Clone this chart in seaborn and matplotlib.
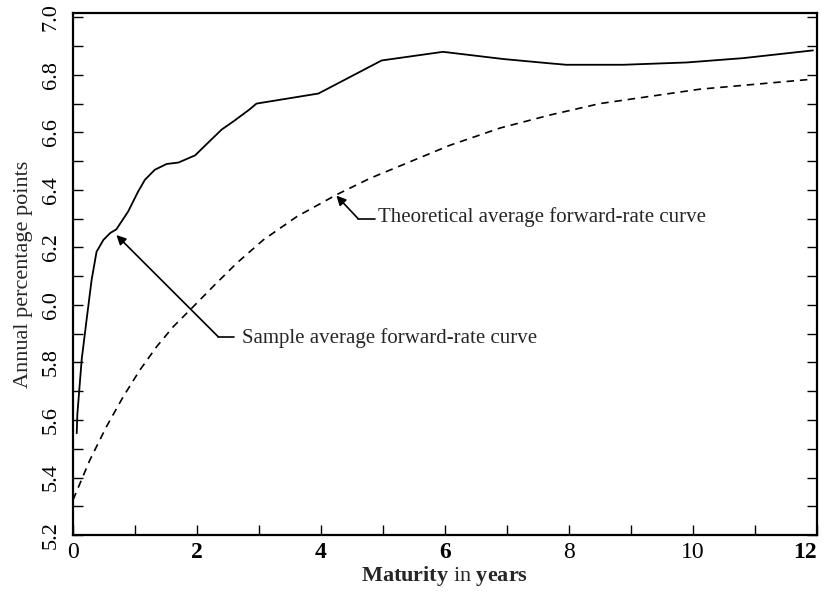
import matplotlib
matplotlib.use("Agg")
import matplotlib.pyplot as plt
import seaborn as sns
import pandas as pd
from matplotlib.ticker import MultipleLocator

# ---- data ----
sample_x = [0.06, 0.07, 0.14, 0.22, 0.30, 0.38, 0.49, 0.60, 0.70, 0.89, 1.05, 1.16,
            1.32, 1.51, 1.70, 1.97, 2.16, 2.40, 2.60, 2.85, 2.96, 3.96, 4.98, 5.97,
            6.94, 7.69, 7.96, 8.88, 9.90, 10.81, 11.94]
sample_y = [5.554, 5.62, 5.81, 5.95, 6.087, 6.185, 6.226, 6.25, 6.263, 6.325, 6.394, 6.435,
            6.47, 6.49, 6.495, 6.52, 6.56, 6.61, 6.64, 6.68, 6.70, 6.735, 6.85, 6.88,
            6.855, 6.84, 6.835, 6.835, 6.843, 6.858, 6.885]

theo_x = [0.0, 0.27, 0.54, 0.81, 1.08, 1.35, 1.62, 1.89, 2.26, 2.64, 3.07, 3.61, 4.25,
          4.79, 6.08, 6.89, 7.69, 8.5, 10.11, 11.94]
theo_y = [5.322, 5.46, 5.577, 5.681, 5.774, 5.855, 5.925, 5.983, 6.064, 6.145, 6.226,
          6.307, 6.383, 6.44, 6.555, 6.615, 6.66, 6.70, 6.75, 6.785]

x_ticks = [0, 2, 4, 6, 8, 10, 12]
x_bold = [False, True, True, True, False, False, True]
y_ticks = [5.2, 5.4, 5.6, 5.8, 6.0, 6.2, 6.4, 6.6, 6.8, 7.0]

label_theo = "Theoretical average forward-rate curve"
label_sample = "Sample average forward-rate curve"

df_s = pd.DataFrame({"maturity": sample_x, "rate": sample_y})
df_t = pd.DataFrame({"maturity": theo_x, "rate": theo_y})

sns.set_theme(style="ticks")
plt.rcParams["font.family"] = ["Liberation Serif", "DejaVu Serif"]
plt.rcParams["mathtext.fontset"] = "custom"
plt.rcParams["mathtext.rm"] = "Liberation Serif"
plt.rcParams["mathtext.bf"] = "Liberation Serif:bold"
plt.rcParams["mathtext.it"] = "Liberation Serif:italic"

fig = plt.figure(figsize=(8.25, 5.96), dpi=100)
ax = fig.add_axes([0.0885, 0.1023, 0.9015, 0.8759])

sns.lineplot(data=df_s, x="maturity", y="rate", ax=ax, color="black", lw=1.3,
             estimator=None, sort=False)
sns.lineplot(data=df_t, x="maturity", y="rate", ax=ax, color="black", lw=1.2,
             estimator=None, sort=False, dashes=False, linestyle=(0, (4.5, 3.5)))

ax.set_xlim(0, 12)
ax.set_ylim(5.2, 7.015)

ax.set_xticks(x_ticks)
ax.set_xticklabels([str(t) for t in x_ticks], fontsize=17)
xl = ax.get_xticklabels()
for lbl, b in zip(xl, x_bold):
    lbl.set_fontweight("bold" if b else "normal")
xl[-1].set_horizontalalignment("right")
ax.xaxis.set_minor_locator(MultipleLocator(1))

ax.set_yticks(y_ticks)
ax.set_yticklabels([f"{t:.1f}" for t in y_ticks], fontsize=16, rotation=90, va="center")
ax.yaxis.set_minor_locator(MultipleLocator(0.1))

ax.tick_params(axis="both", which="both", direction="in", length=7, width=1.0,
               colors="black", right=True, top=False)
ax.tick_params(axis="y", which="both", pad=9)
ax.tick_params(axis="x", which="both", pad=5)

for s in ax.spines.values():
    s.set_linewidth(1.6)
    s.set_color("black")

ax.set_xlabel(r"$\mathbf{Maturity}$ in $\mathbf{years}$", fontsize=16, labelpad=1)
ax.set_ylabel("Annual percentage points", fontsize=16, labelpad=6)

# annotations
arrow = dict(arrowstyle="-|>", lw=1.2, color="black", mutation_scale=14,
             shrinkA=0, shrinkB=0)
ax.annotate("", xy=(4.25, 6.38), xytext=(4.60, 6.30), arrowprops=arrow)
ax.plot([4.60, 4.87], [6.30, 6.30], color="black", lw=1.2)
ax.text(4.92, 6.29, label_theo, fontsize=15, ha="left", va="baseline")

ax.annotate("", xy=(0.70, 6.243), xytext=(2.34, 5.89), arrowprops=arrow)
ax.plot([2.34, 2.59], [5.89, 5.89], color="black", lw=1.2)
ax.text(2.72, 5.866, label_sample, fontsize=15, ha="left", va="baseline")

fig.savefig("out.png", dpi=100)
